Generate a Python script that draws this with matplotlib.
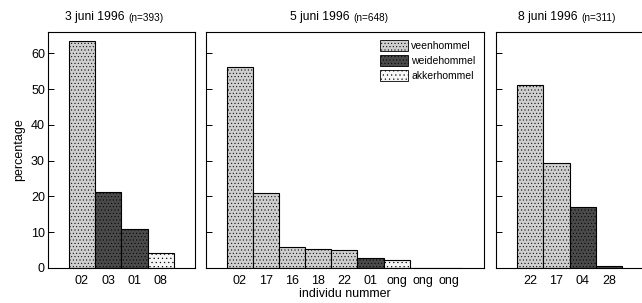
import matplotlib
matplotlib.use("Agg")
import matplotlib.pyplot as plt
from matplotlib.patches import Patch

plt.rcParams['font.family'] = ['Liberation Sans', 'DejaVu Sans']
plt.rcParams['hatch.linewidth'] = 0.35

# --- data (percentages) ---
titles = ["3 juni 1996", "5 juni 1996", "8 juni 1996"]
ns = ["(n=393)", "(n=648)", "(n=311)"]

labels1 = ["02", "03", "01", "08"]
values1 = [63.5, 21.3, 10.8, 4.3]
species1 = ["veen", "weide", "weide", "akker"]

labels2 = ["02", "17", "16", "18", "22", "01", "ong", "ong", "ong"]
values2 = [56.2, 21.1, 5.9, 5.4, 4.9, 2.9, 2.3, 0.0, 0.0]
species2 = ["veen", "veen", "veen", "veen", "veen", "weide", "akker", "akker", "akker"]

labels3 = ["22", "17", "04", "28"]
values3 = [51.1, 29.4, 17.1, 0.6]
species3 = ["veen", "veen", "weide", "weide"]

legend_names = {"veen": "veenhommel", "weide": "weidehommel", "akker": "akkerhommel"}
styles = {
    "veen": dict(facecolor="#cfcfcf", hatch="....."),
    "weide": dict(facecolor="#4a4a4a", hatch="....."),
    "akker": dict(facecolor="#f6f6f6", hatch="...."),
}

W, H = 642, 303
fig = plt.figure(figsize=(W / 100, H / 100), dpi=100)

def px_axes(x0, x1, y0=32, y1=268):
    return fig.add_axes([x0 / W, 1 - y1 / H, (x1 - x0) / W, (y1 - y0) / H])

axes = [px_axes(47.7, 195), px_axes(206, 484), px_axes(496, 643)]
data = [(labels1, values1, species1), (labels2, values2, species2), (labels3, values3, species3)]
splits = [0.545, 0.53, 0.58]
xmax = [4.3, 9.35, 4.3]

for i, (ax, (lab, val, sp)) in enumerate(zip(axes, data)):
    x = list(range(len(lab)))
    for xi, v, s in zip(x, val, sp):
        ax.bar(xi, v, width=1.0, edgecolor="black", linewidth=0.8, **styles[s])
    ax.set_xlim(-1.3, xmax[i])
    ax.set_ylim(0, 66)
    ax.set_xticks(x)
    ax.set_xticklabels(lab, fontsize=9)
    ax.set_yticks([0, 10, 20, 30, 40, 50, 60])
    ax.tick_params(axis="x", length=0, pad=5)
    ax.tick_params(axis="y", direction="in", length=4, width=0.7, pad=2, labelsize=9)
    if i > 0:
        ax.tick_params(axis="y", labelleft=False)
    for sp_ in ax.spines.values():
        sp_.set_linewidth(0.8)
    t = ax.text(splits[i], 1.04, titles[i] + " ", transform=ax.transAxes,
                ha="right", va="bottom", fontsize=8.7)
    ax.annotate(ns[i], xy=(1, 0), xycoords=t, ha="left", va="bottom", fontsize=7.2)

axes[0].set_ylabel("percentage", fontsize=9, labelpad=4)
axes[1].set_xlabel("individu nummer", fontsize=9, labelpad=1)

handles = [Patch(edgecolor="black", linewidth=0.6, label=legend_names[k], **styles[k])
           for k in ["veen", "weide", "akker"]]
axes[1].legend(handles=handles, loc="upper right", frameon=False, fontsize=7.5,
               handlelength=2.7, handleheight=1.25, handletextpad=0.3,
               labelspacing=0.35, borderaxespad=0.4)

fig.savefig("out.png", dpi=100)
